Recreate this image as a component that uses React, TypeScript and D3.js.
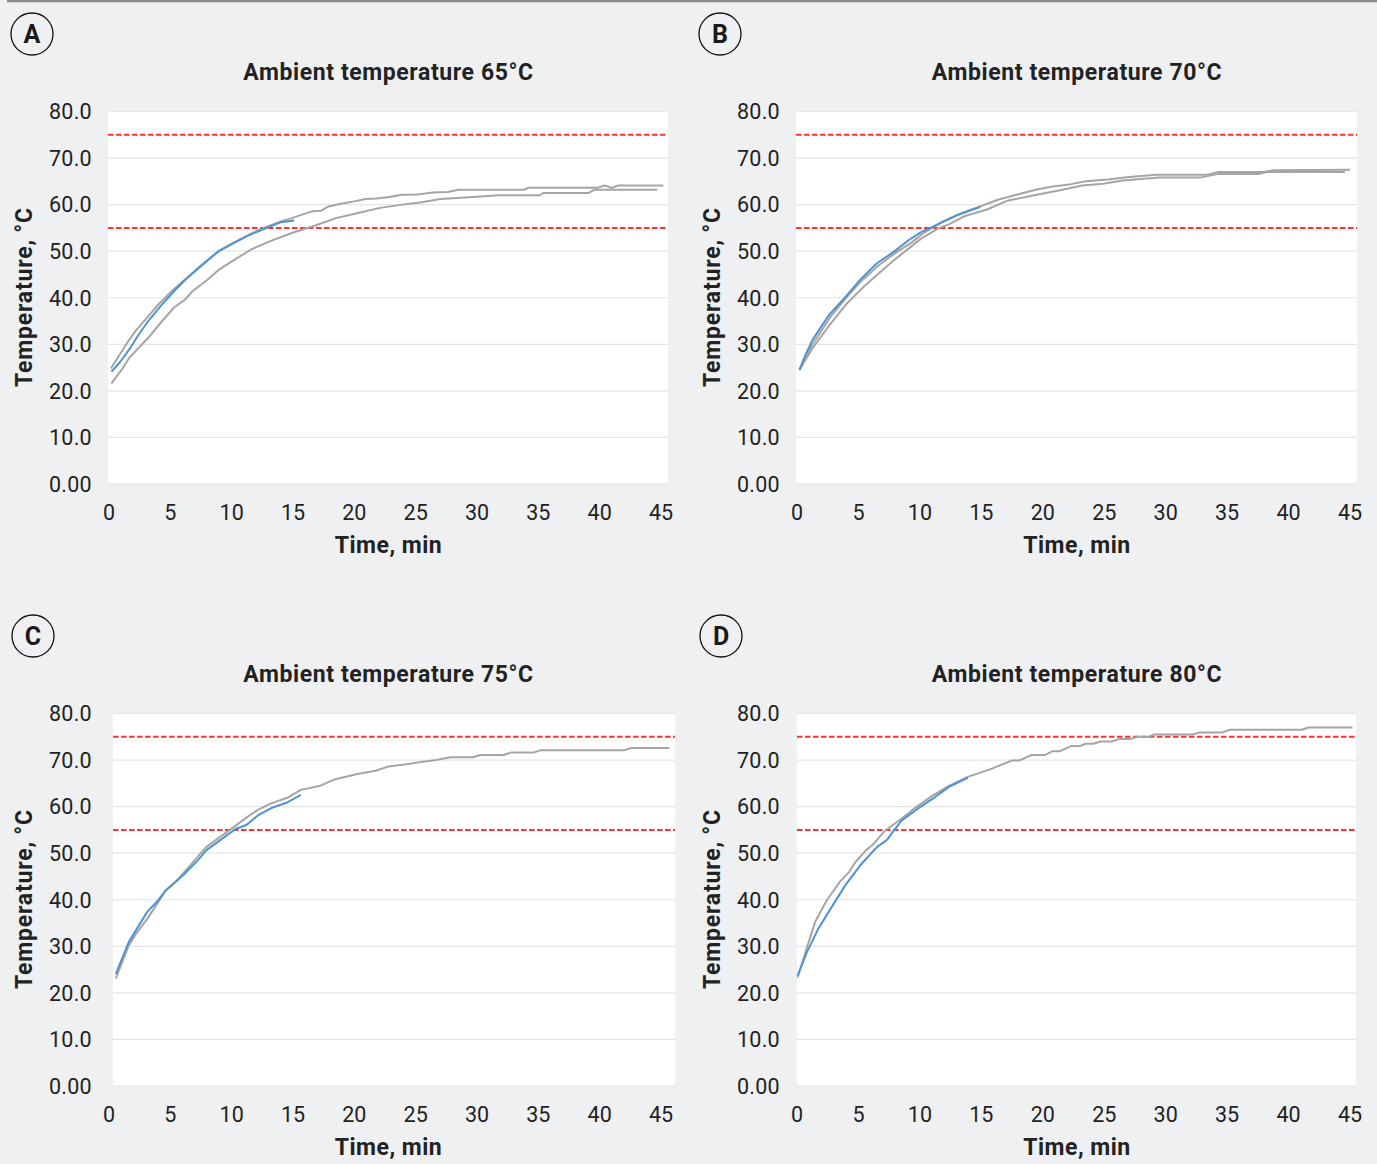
import React from "react";
import * as d3 from "d3";

// ---------- data ----------
const yTicks = [0, 10, 20, 30, 40, 50, 60, 70, 80];
const yTickLabels = ["0.00", "10.0", "20.0", "30.0", "40.0", "50.0", "60.0", "70.0", "80.0"];
const xTicks = [0, 5, 10, 15, 20, 25, 30, 35, 40, 45];
const limitLines = [75, 55];
const panelLetters = ["A", "B", "C", "D"];
const panelTitles = [
  "Ambient temperature 65°C",
  "Ambient temperature 70°C",
  "Ambient temperature 75°C",
  "Ambient temperature 80°C",
];

type P = [number, number];

const a65Gray1: P[] = [[0.15,24.8],[0.8,27.5],[1.5,30.4],[2.2,33],[3.0,35.4],[4,38.5],[5.1,41.4],[6.2,43.9],[7.5,46.9],[8.9,50],[10.2,51.9],[11.3,53.4],[12.2,54.5],[13.1,55.5],[14,56.4],[14.9,57.1],[15.8,57.9],[16.6,58.6],[17.3,58.7],[17.9,59.6],[18.9,60.2],[20,60.7],[20.9,61.2],[21.8,61.3],[22.7,61.6],[23.9,62.1],[25.2,62.2],[26.4,62.6],[27.6,62.7],[28.5,63.2],[33.8,63.2],[34.2,63.6],[39.8,63.6],[40.4,64.1],[41,63.6],[41.5,64.1],[45.2,64.1]];
const a65Gray2: P[] = [[0.2,21.6],[1.05,24.6],[1.65,27.1],[3.2,31.4],[4.3,34.9],[5.3,37.9],[6.2,39.6],[6.8,41.4],[8,43.8],[9,46.1],[10.5,48.6],[11.6,50.4],[13.1,52.1],[14.9,53.9],[16.7,55.4],[18.5,57.1],[20.3,58.2],[22.1,59.3],[23.9,60],[25.5,60.5],[27,61.2],[29.4,61.6],[31.8,62],[35.1,62],[35.4,62.5],[39.1,62.5],[39.6,63.2],[44.7,63.2]];
const a65Blue: P[] = [[0.2,24.1],[0.9,26.2],[1.65,28.9],[2.4,32],[3.2,35],[4.2,38.2],[5.3,41.4],[6.2,43.8],[7.5,46.8],[8.9,49.9],[10.2,51.8],[11.3,53.3],[13.1,55.3],[14,56.2],[15.1,56.6]];

const b70Gray1: P[] = [[0.2,24.5],[1.25,29.9],[2.75,36],[4,40],[5.15,43.4],[6.7,47.1],[8,49.6],[9.4,52],[10.3,53.9],[11.8,56.3],[13.3,58.1],[14.9,59.6],[16.4,61.1],[18.4,62.5],[19.6,63.3],[20.8,63.9],[22.3,64.4],[23.5,65],[25.3,65.4],[26.8,65.9],[29.2,66.4],[33.4,66.4],[34.3,67],[38,67],[38.8,67.4],[45,67.5]];
const b70Gray2: P[] = [[0.2,24.5],[1.25,29.1],[2.75,34.5],[4,38.6],[5.45,42.4],[6.8,45.6],[8,48.3],[9.1,50.6],[10.1,52.7],[11.5,54.9],[12.4,55.8],[13.6,57.5],[15.4,58.9],[17.2,60.9],[19.3,62],[21.4,63.1],[23.2,64.1],[24.9,64.5],[26.5,65.2],[29.5,65.8],[32.8,65.8],[34.3,66.6],[37.6,66.6],[38.2,67],[44.6,67]];
const b70Blue: P[] = [[0.2,24.5],[0.7,27.8],[1.25,30.9],[2.6,36.3],[3.95,40.2],[5.15,43.9],[6.5,47.4],[7.9,49.9],[9.1,52.4],[10.1,54.1],[11.5,55.8],[13,57.7],[14.9,59.5]];

const c75Gray: P[] = [[0.15,23.1],[1.2,30.2],[1.8,32.7],[2.7,35.9],[3.6,39.5],[4.2,42],[5.1,44.1],[6.2,47.4],[7.5,51.3],[8.7,53.6],[9.8,55.7],[10.8,57.7],[11.7,59.3],[12.8,60.7],[14.1,61.9],[15.2,63.6],[16.8,64.5],[18,65.9],[19.8,67],[21.3,67.7],[22.3,68.6],[23.8,69.1],[25,69.6],[26.2,70],[27.4,70.6],[29.2,70.6],[29.8,71.1],[31.7,71.1],[32.3,71.6],[34.1,71.6],[34.7,72.1],[41.5,72.1],[42.1,72.6],[45.2,72.6]];
const c75Blue: P[] = [[0.15,24.1],[1.2,30.9],[2.7,37.4],[3.6,39.9],[4.2,42],[5.6,45.2],[6.8,48.4],[7.5,50.6],[8.7,52.9],[9.9,55.2],[10.8,56.1],[11.7,58.1],[12.8,59.7],[14.1,60.9],[15.2,62.5]];

const d80Gray: P[] = [[0.05,23.3],[0.8,29.7],[1.5,35.4],[2.45,40],[3.5,43.9],[4.25,46],[4.7,47.9],[5.6,50.6],[6.2,51.9],[7.1,54.7],[8.5,57.4],[9.7,59.9],[11,62.3],[12.4,64.5],[13.9,66.4],[15.7,68],[17.5,69.9],[18.1,69.9],[19.1,71.1],[20.2,71.1],[20.8,71.9],[21.4,71.9],[22.3,73],[23,73],[23.5,73.5],[24.1,73.5],[24.7,74],[25.6,74],[26.2,74.5],[27.1,74.5],[27.7,75],[28.6,75],[29.1,75.5],[32.2,75.5],[32.7,75.9],[34.6,75.9],[35.2,76.5],[41.1,76.5],[41.6,77],[45.2,77]];
const d80Blue: P[] = [[0.05,23.7],[0.8,28.7],[1.7,33.6],[2.6,37.5],[3.95,43.2],[5.15,47.4],[6.5,51.3],[7.3,52.8],[8.5,57],[9.8,59.5],[11.2,62],[12.4,64.3],[13.9,66.2]];

const panelGray = [[a65Gray1, a65Gray2], [b70Gray1, b70Gray2], [c75Gray], [d80Gray]];
const panelBlue = [a65Blue, b70Blue, c75Blue, d80Blue];

// ---------- layout ----------
const W = 1377;
const H = 1164;
const layouts = [
  { left: 108, right: 668, x0: 109, x45: 661, lab0: 109, lab45: 661, dy: 0, cx: 32, cy: 34 },
  { left: 796, right: 1357, x0: 797, x45: 1350, lab0: 797, lab45: 1350, dy: 0, cx: 720, cy: 34 },
  { left: 113, right: 675, x0: 114, x45: 667, lab0: 109, lab45: 661, dy: 602, cx: 33, cy: 636 },
  { left: 797, right: 1356, x0: 797, x45: 1350, lab0: 797, lab45: 1350, dy: 602, cx: 721, cy: 636 },
];

const FONT = "Roboto, 'Noto Sans', sans-serif";
const GRAY = "#a5a5a5";
const BLUE = "#4f93d3";
const RED = "#ff3030";

function Panel({ i }: { i: number }) {
  const L = layouts[i];
  const top = 111.5 + L.dy;
  const bottom = 484 + L.dy;
  const x = d3.scaleLinear().domain([0, 45]).range([L.x0, L.x45]);
  const xl = d3.scaleLinear().domain([0, 45]).range([L.lab0, L.lab45]);
  const y = d3.scaleLinear().domain([0, 80]).range([bottom, top]);
  const line = d3.line<P>().x((d) => x(d[0])).y((d) => y(d[1]));
  const titleX = (L.lab0 + L.lab45) / 2 + 3.5;
  const yLabRight = L.lab0 - 17;
  return (
    <g>
      <circle cx={L.cx} cy={L.cy} r={21} fill="#eff0f2" stroke="#111" strokeWidth={1.3} />
      <text x={L.cx} y={L.cy + 9} textAnchor="middle" fontFamily={FONT} fontWeight={700} fontSize={25} fill="#1a1a1a">
        {panelLetters[i]}
      </text>
      <text x={titleX} y={80 + L.dy} textAnchor="middle" fontFamily={FONT} fontWeight={700} fontSize={23} letterSpacing={0.6} fill="#222">
        {panelTitles[i]}
      </text>
      <rect x={L.left} y={top} width={L.right - L.left} height={bottom - top} fill="#ffffff" />
      {yTicks.map((t) => (
        <line key={"g" + t} x1={L.left} x2={L.right} y1={y(t)} y2={y(t)} stroke="#e4e4e4" strokeWidth={1.2} />
      ))}
      {yTicks.map((t, k) => (
        <text key={"yl" + t} x={yLabRight} y={y(t) + 7.8} textAnchor="end" fontFamily={FONT} fontSize={21.5} letterSpacing={0.3} fill="#222">
          {yTickLabels[k]}
        </text>
      ))}
      {xTicks.map((t) => (
        <text key={"xl" + t} x={xl(t)} y={520 + L.dy} textAnchor="middle" fontFamily={FONT} fontSize={21.5} fill="#222">
          {t}
        </text>
      ))}
      <text x={titleX} y={553 + L.dy} textAnchor="middle" fontFamily={FONT} fontWeight={700} fontSize={23} letterSpacing={0.5} fill="#222">
        Time, min
      </text>
      <text
        transform={`translate(${L.lab0 - 77},${297 + L.dy}) rotate(-90)`}
        textAnchor="middle"
        fontFamily={FONT}
        fontWeight={700}
        fontSize={23}
        letterSpacing={0.8}
        fill="#222"
      >
        Temperature, °C
      </text>
      {limitLines.map((v) => (
        <line key={"r" + v} x1={L.left} x2={L.right} y1={y(v)} y2={y(v)} stroke={RED} strokeWidth={2} strokeDasharray="5.5,2.5" />
      ))}
      {panelGray[i].map((s, k) => (
        <path key={"gs" + k} d={line(s) || ""} fill="none" stroke={GRAY} strokeWidth={2} strokeLinejoin="round" />
      ))}
      <path d={line(panelBlue[i]) || ""} fill="none" stroke={BLUE} strokeWidth={2} strokeLinejoin="round" />
    </g>
  );
}

export default function App() {
  return (
    <svg width={W} height={H} style={{ position: "absolute", left: 0, top: 0, background: "#eff0f2" }}>
      <rect x={0} y={0} width={W} height={H} fill="#eff0f2" />
      <line x1={7} x2={W} y1={1} y2={1} stroke="#8a8a8a" strokeWidth={2.5} />
      {[0, 1, 2, 3].map((i) => (
        <Panel key={i} i={i} />
      ))}
    </svg>
  );
}
